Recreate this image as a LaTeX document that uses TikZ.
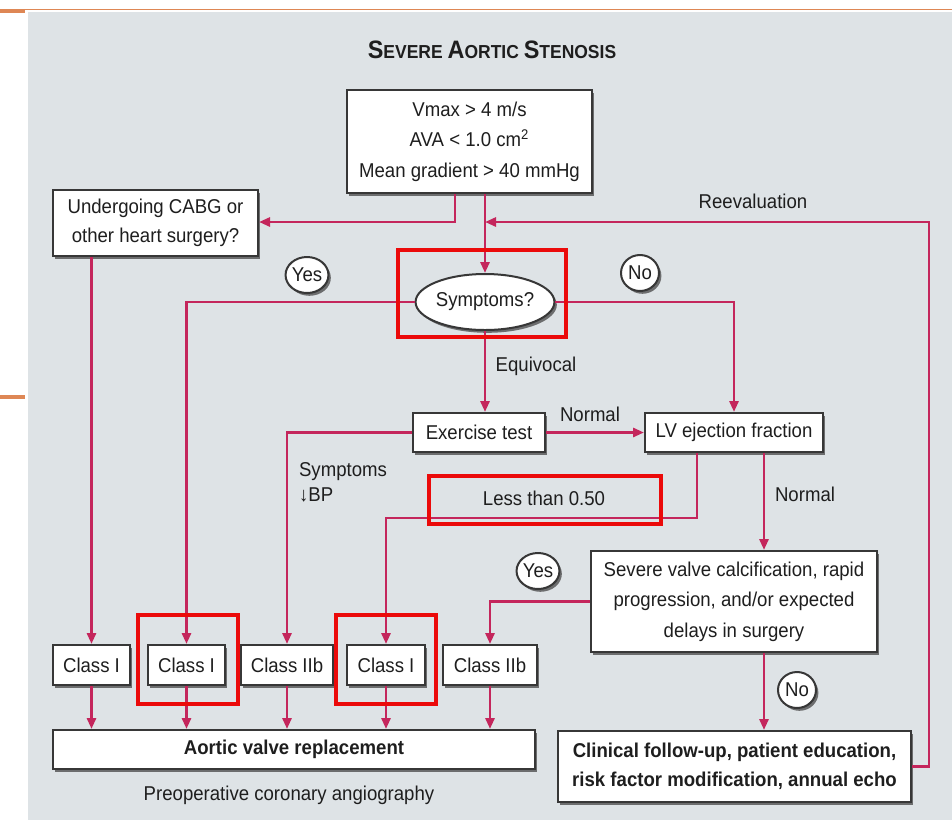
\documentclass[tikz,border=0pt]{standalone}
\usepackage{fontspec}
\setmainfont{Liberation Sans}[FakeStretch=0.93]
\usetikzlibrary{arrows.meta,shapes.geometric,shadows}
\definecolor{flow}{RGB}{196,38,92}
\definecolor{panel}{RGB}{222,227,230}
\definecolor{accent}{RGB}{222,135,85}
\definecolor{ink}{RGB}{30,30,30}
\definecolor{edge}{RGB}{55,55,55}
\definecolor{mark}{RGB}{235,10,10}
\begin{document}
\begin{tikzpicture}[x=0.5pt,y=-0.5pt,
  every node/.style={text=ink, font=\fontsize{10}{15}\selectfont},
  shade/.style={drop shadow={shadow xshift=1.2pt, shadow yshift=-1.4pt, fill=black!65, opacity=0.85}},
  box/.style={draw=edge, line width=1pt, fill=white, inner sep=0pt, align=center, shade},
  tag/.style={ellipse, draw=edge, line width=1pt, fill=white, inner sep=0pt,
              minimum width=19pt, minimum height=18pt, shade},
  link/.style={draw=flow, line width=1.4pt},
  go/.style={link, -{Triangle[length=5.5pt,width=4.5pt]}},
  hilite/.style={draw=mark, line width=1.6pt},
]
\useasboundingbox (0,0) rectangle (952,820);

% page background, panel and accent rules
\fill[white] (0,0) rectangle (952,820);
\fill[panel] (28,12) rectangle (952,820);
\fill[accent] (25,8.7) rectangle (952,10.2);
\fill[accent] (0,9.3) rectangle (25,12.7);
\fill[accent] (0,395) rectangle (25,399);

% title
\node (title) at (492,50) {\bfseries\fontsize{12.6}{14}\selectfont S\fontsize{9.4}{14}\selectfont EVERE
  \fontsize{12.6}{14}\selectfont A\fontsize{9.4}{14}\selectfont ORTIC
  \fontsize{12.6}{14}\selectfont S\fontsize{9.4}{14}\selectfont TENOSIS};

% boxes
\node[box, minimum width=122.5pt, minimum height=51.5pt, font=\fontsize{10}{15.25}\selectfont]
  (top) at (469.5,141.5) {Vmax > 4 m/s\\AVA < 1.0 cm\textsuperscript{2}\\Mean gradient > 40 mmHg};
\node[box, minimum width=102.5pt, minimum height=33pt, font=\fontsize{10}{14.5}\selectfont]
  (cabg) at (155.5,223) {Undergoing CABG or\\other heart surgery?};
\node[ellipse, draw=edge, line width=1pt, fill=white, inner sep=0pt,
      minimum width=61pt, minimum height=28pt, shade] (sym) at (485,302) {Symptoms?};
\node[box, minimum width=66pt, minimum height=19.5pt] (ex) at (479,432.5) {Exercise test};
\node[box, minimum width=89pt, minimum height=19.5pt] (lv) at (734,432.5) {LV ejection fraction};
\node[box, minimum width=143pt, minimum height=50.5pt, font=\fontsize{10}{15.25}\selectfont]
  (sev) at (734,601.5) {Severe valve calcification, rapid\\progression, and/or expected\\delays in surgery};
\node[box, minimum width=38.5pt, minimum height=20pt] (c1) at (91.5,665) {Class I};
\node[box, minimum width=38.5pt, minimum height=20pt] (c2) at (186.5,665) {Class I};
\node[box, minimum width=46pt, minimum height=20pt] (c3) at (287,665) {Class IIb};
\node[box, minimum width=39pt, minimum height=20pt] (c4) at (386,665) {Class I};
\node[box, minimum width=47pt, minimum height=20pt] (c5) at (490,665) {Class IIb};
\node[box, minimum width=241pt, minimum height=19.5pt, font=\bfseries\fontsize{10}{14.5}\selectfont]
  (avr) at (294,749.5) {Aortic valve replacement};
\node[box, minimum width=176.5pt, minimum height=35.5pt, font=\bfseries\fontsize{10}{14.5}\selectfont]
  (fu) at (734.5,766.5) {Clinical follow-up, patient education,\\risk factor modification, annual echo};

% decision tags
\node[tag] (yes1) at (307,275) {Yes};
\node[tag] (no1) at (640,273) {No};
\node[tag] (yes2) at (538,571) {Yes};
\node[tag] (no2) at (797,690) {No};

% connector labels
\node (equiv) at (536,366) {Equivocal};
\node (norm1) at (590,414) {Normal};
\node (norm2) at (805,494) {Normal};
\node[anchor=west, align=left, font=\fontsize{10}{12.5}\selectfont] (symbp) at (292,482) {Symptoms\\↓BP};
\node (less) at (544,498) {Less than 0.50};
\node (reeval) at (753,201) {Reevaluation};
\node (angio) at (289,795) {Preoperative coronary angiography};

% helper points
\coordinate (cabgtap) at (455,222);
\coordinate (loop) at (929,222);
\coordinate (lowef) at (697,518);
\coordinate (normline) at (764,0);

% connectors
\draw[go] (top.south -| cabgtap) -- (cabgtap) -- (cabgtap -| cabg.east);
\draw[go] (top.south -| sym.north) -- (sym.north);
\draw[go] (fu.east) -| (loop) -- (loop -| sym.north);
\draw[go] (cabg.south -| c1.north) -- (c1.north);
\draw[go] (sym.west) -| (c2.north);
\draw[go] (sym.east) -| (lv.north);
\draw[go] (sym.south) -- (sym.south |- ex.north);
\draw[go] (ex.east) -- (lv.west);
\draw[go] (ex.west) -| (c3.north);
\draw[go] (lv.south -| lowef) -- (lowef) -| (c4.north);
\draw[go] (lv.south -| normline) -- (sev.north -| normline);
\draw[go] (sev.south -| normline) -- (fu.north -| normline);
\draw[go] (sev.west) -| (c5.north);
\foreach \c in {c1,c2,c3,c4,c5}
  \draw[go] (\c.south) -- (\c.south |- avr.north);

% highlight frames
\draw[hilite] (398,250) rectangle (566,337);
\draw[hilite] (429,476) rectangle (661,524);
\draw[hilite] (138,615) rectangle (238,704);
\draw[hilite] (336,615) rectangle (436,704);
\end{tikzpicture}
\end{document}
